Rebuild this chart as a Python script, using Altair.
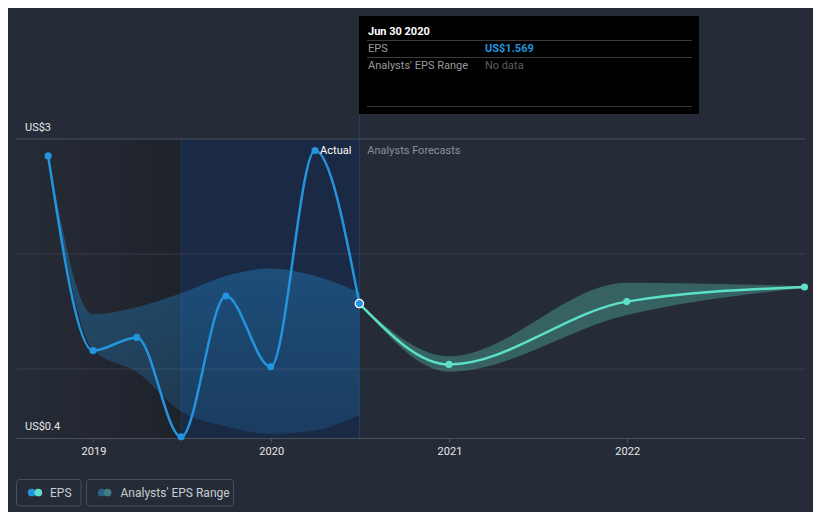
import altair as alt
import pandas as pd

# ---------------- data ----------------
eps_dates = ["2018-09-30", "2018-12-31", "2019-03-31", "2019-06-30",
             "2019-09-30", "2019-12-31", "2020-03-31", "2020-06-30"]
eps_values = [2.853, 1.16, 1.275, 0.41, 1.635, 1.02, 2.90, 1.569]

past_range_low = [2.853, 1.17, 0.973, 0.63, 0.50, 0.437, 0.466, 0.60]
past_range_high = [2.853, 1.476, 1.537, 1.658, 1.808, 1.874, 1.808, 1.667]

fc_dates = ["2020-06-30", "2020-12-31", "2021-12-31", "2022-12-31"]
fc_values = [1.569, 1.04, 1.586, 1.713]
fc_low = [1.569, 0.977, 1.47, 1.705]
fc_high = [1.569, 1.11, 1.75, 1.72]

grid_values = [1, 2]
top_grid = [3]
ylabel_values = [3, 0.4]
ylabel_texts = ["US$3", "US$0.4"]
year_ticks = [2019, 2020, 2021, 2022]

band_dark = ["2018-07-26", "2019-06-30"]
band_blue = ["2019-06-30", "2020-06-30"]
divider_date = "2020-06-30"

tip_title = "Jun 30 2020"
tip_rows = ["EPS", "Analysts' EPS Range"]
tip_vals = ["US$1.569", "No data"]
legend_labels = ["EPS", "Analysts' EPS Range"]

# ---------------- style ----------------
BG = "#262c37"
BLUE = "#2394df"
TEAL = "#5ee0c8"
FONT = "Roboto"
W, H = 789, 299

xscale = alt.Scale(type="utc", domain=[alt.DateTime(year=2018, month=7, date=26, utc=True),
                                       alt.DateTime(year=2023, month=1, date=1, utc=True)])
yscale = alt.Scale(domain=[0.4, 3], zero=False, nice=False)

XAXIS = alt.Axis(values=[alt.DateTime(year=y, month=1, date=1, utc=True) for y in year_ticks],
                 format="%Y", formatType="utc", title=None, grid=False,
                 labelColor="#e8e8e8", labelFontSize=11, labelFont=FONT,
                 domainColor="#4b515c", tickColor="#4b515c", tickSize=4,
                 labelPadding=3)


def X(field="date"):
    return alt.X(f"{field}:T", scale=xscale, axis=XAXIS, title=None)


def Y(field):
    return alt.Y(f"{field}:Q", scale=yscale, axis=None)


eps_df = pd.DataFrame({"date": eps_dates, "eps": eps_values,
                       "lo": past_range_low, "hi": past_range_high})
fc_df = pd.DataFrame({"date": fc_dates, "eps": fc_values, "lo": fc_low, "hi": fc_high})
one = pd.DataFrame({"a": [0]})

# background bands
dark_band = alt.Chart(pd.DataFrame({"s": [band_dark[0]], "e": [band_dark[1]]})).mark_rect(
    fill=alt.Gradient(gradient="linear",
                      stops=[alt.GradientStop(color=BG, offset=0),
                             alt.GradientStop(color="#1e222b", offset=1)],
                      x1=0, x2=1, y1=0, y2=0)
).encode(x=X("s"), x2="e:T", y=alt.value(0), y2=alt.value(H))

blue_band = alt.Chart(pd.DataFrame({"s": [band_blue[0]], "e": [band_blue[1]]})).mark_rect(
    color="#1a2944"
).encode(x=X("s"), x2="e:T", y=alt.value(0), y2=alt.value(H))

band_edge = alt.Chart(pd.DataFrame({"s": [band_blue[0]]})).mark_rule(
    color="#22355a", strokeWidth=1
).encode(x=X("s"), y=alt.value(0), y2=alt.value(H))

divider = alt.Chart(pd.DataFrame({"s": [divider_date]})).mark_rule(
    color="#22406a", strokeWidth=1
).encode(x=X("s"), y=alt.value(-25), y2=alt.value(H))

# grid
grid = alt.Chart(pd.DataFrame({"v": grid_values})).mark_rule(color="#363c48", strokeWidth=1).encode(
    y=Y("v"), x=alt.value(0), x2=alt.value(W))
grid_top = alt.Chart(pd.DataFrame({"v": top_grid})).mark_rule(color="#4b515c", strokeWidth=1).encode(
    y=Y("v"), x=alt.value(0), x2=alt.value(W))

ylabels = alt.Chart(pd.DataFrame({"v": ylabel_values, "t": ylabel_texts})).mark_text(
    align="left", baseline="alphabetic", dy=-8, font=FONT, fontSize=11, color="#e8e8e8"
).encode(y=Y("v"), x=alt.value(9), text="t:N")

# past range area
past_area = alt.Chart(eps_df).mark_area(
    interpolate="monotone",
    fill=alt.Gradient(gradient="linear",
                      stops=[alt.GradientStop(color="rgba(35,148,223,0.45)", offset=0),
                             alt.GradientStop(color="rgba(35,148,223,0.18)", offset=1)],
                      x1=0, x2=0, y1=0, y2=1)
).encode(x=X(), y=Y("lo"), y2="hi:Q")

fc_area = alt.Chart(fc_df).mark_area(interpolate="monotone", color=TEAL, opacity=0.3).encode(
    x=X(), y=Y("lo"), y2="hi:Q")

eps_line = alt.Chart(eps_df).mark_line(interpolate="monotone", color=BLUE, strokeWidth=2.5).encode(
    x=X(), y=Y("eps"))
eps_pts = alt.Chart(eps_df.iloc[:-1]).mark_circle(size=50, color=BLUE, opacity=1).encode(
    x=X(), y=Y("eps"))

fc_line = alt.Chart(fc_df).mark_line(interpolate="monotone", color=TEAL, strokeWidth=2.5).encode(
    x=X(), y=Y("eps"))
fc_pts = alt.Chart(fc_df.iloc[1:]).mark_circle(size=50, color=TEAL, opacity=1).encode(
    x=X(), y=Y("eps"))

cur_pt = alt.Chart(eps_df.iloc[-1:]).mark_point(
    filled=True, fill=BLUE, stroke="white", strokeWidth=1.2, size=70, opacity=1
).encode(x=X(), y=Y("eps"))

div_df = pd.DataFrame({"s": [divider_date], "a": ["Actual"], "f": ["Analysts Forecasts"]})
actual_txt = alt.Chart(div_df).mark_text(
    align="right", baseline="middle", dx=-8, font=FONT, fontSize=11, color="#ffffff"
).encode(x=X("s"), y=alt.value(12), text="a:N")
fc_txt = alt.Chart(div_df).mark_text(
    align="left", baseline="middle", dx=8, font=FONT, fontSize=11, color="#8c9099"
).encode(x=X("s"), y=alt.value(12), text="f:N")

# tooltip box
tip_box = alt.Chart(one).mark_rect(color="#000000").encode(
    x=alt.value(343), x2=alt.value(683), y=alt.value(-123), y2=alt.value(-25))
tip_line1 = alt.Chart(one).mark_rule(color="#3a3a3a", strokeWidth=1).encode(
    x=alt.value(351), x2=alt.value(676), y=alt.value(-98.5))
tip_line2 = alt.Chart(one).mark_rule(color="#3a3a3a", strokeWidth=1).encode(
    x=alt.value(351), x2=alt.value(676), y=alt.value(-81.5))
tip_line3 = alt.Chart(one).mark_rule(color="#3a3a3a", strokeWidth=1).encode(
    x=alt.value(351), x2=alt.value(676), y=alt.value(-32.5))

tip_t = alt.Chart(pd.DataFrame({"t": [tip_title]})).mark_text(
    align="left", baseline="alphabetic", font=FONT, fontSize=11, fontWeight="bold", color="#ffffff"
).encode(x=alt.value(352), y=alt.value(-104), text="t:N")
tip_r1 = alt.Chart(pd.DataFrame({"t": [tip_rows[0]]})).mark_text(
    align="left", baseline="alphabetic", font=FONT, fontSize=11, color="#9a9a9a"
).encode(x=alt.value(352), y=alt.value(-87), text="t:N")
tip_r2 = alt.Chart(pd.DataFrame({"t": [tip_rows[1]]})).mark_text(
    align="left", baseline="alphabetic", font=FONT, fontSize=11, color="#9a9a9a"
).encode(x=alt.value(352), y=alt.value(-70), text="t:N")
tip_v1 = alt.Chart(pd.DataFrame({"t": [tip_vals[0]]})).mark_text(
    align="left", baseline="alphabetic", font=FONT, fontSize=11, fontWeight="bold", color=BLUE
).encode(x=alt.value(469), y=alt.value(-87), text="t:N")
tip_v2 = alt.Chart(pd.DataFrame({"t": [tip_vals[1]]})).mark_text(
    align="left", baseline="alphabetic", font=FONT, fontSize=11, color="#5e5e5e"
).encode(x=alt.value(469), y=alt.value(-70), text="t:N")

# legend
leg_box1 = alt.Chart(one).mark_rect(fill=BG, stroke="#4b515c", strokeWidth=1, cornerRadius=3).encode(
    x=alt.value(0.5), x2=alt.value(65), y=alt.value(340.5), y2=alt.value(367))
leg_box2 = alt.Chart(one).mark_rect(fill=BG, stroke="#4b515c", strokeWidth=1, cornerRadius=3).encode(
    x=alt.value(70.5), x2=alt.value(217.5), y=alt.value(340.5), y2=alt.value(367))
leg_c1 = alt.Chart(one).mark_circle(size=60, color=BLUE, opacity=1).encode(
    x=alt.value(15.7), y=alt.value(353.5))
leg_c2 = alt.Chart(one).mark_circle(size=60, color=TEAL, opacity=1).encode(
    x=alt.value(22.3), y=alt.value(353.5))
leg_c3 = alt.Chart(one).mark_circle(size=60, color="#2c5f8a", opacity=1).encode(
    x=alt.value(85.7), y=alt.value(353.5))
leg_c4 = alt.Chart(one).mark_circle(size=60, color="#3f7d80", opacity=1).encode(
    x=alt.value(91.5), y=alt.value(353.5))
leg_t1 = alt.Chart(pd.DataFrame({"t": [legend_labels[0]]})).mark_text(
    align="left", baseline="middle", font=FONT, fontSize=12, color="#c8ccd2"
).encode(x=alt.value(34), y=alt.value(353.5), text="t:N")
leg_t2 = alt.Chart(pd.DataFrame({"t": [legend_labels[1]]})).mark_text(
    align="left", baseline="middle", font=FONT, fontSize=12, color="#c8ccd2"
).encode(x=alt.value(104.5), y=alt.value(353.5), text="t:N")

chart = alt.layer(
    dark_band, blue_band, band_edge, grid, grid_top, divider,
    past_area, fc_area, eps_line, fc_line, eps_pts, fc_pts, cur_pt,
    ylabels, actual_txt, fc_txt,
    tip_box, tip_line1, tip_line2, tip_line3, tip_t, tip_r1, tip_r2, tip_v1, tip_v2,
    leg_box1, leg_box2, leg_c1, leg_c2, leg_c3, leg_c4, leg_t1, leg_t2,
).properties(
    width=W, height=H,
    autosize=alt.AutoSizeParams(type="none"),
    padding={"left": 8, "top": 131, "right": 8, "bottom": 74},
    background=BG,
).configure(font=FONT).configure_view(strokeWidth=0, stroke="transparent")

chart.save("out.html", embed_options={"renderer": "svg", "actions": False})
